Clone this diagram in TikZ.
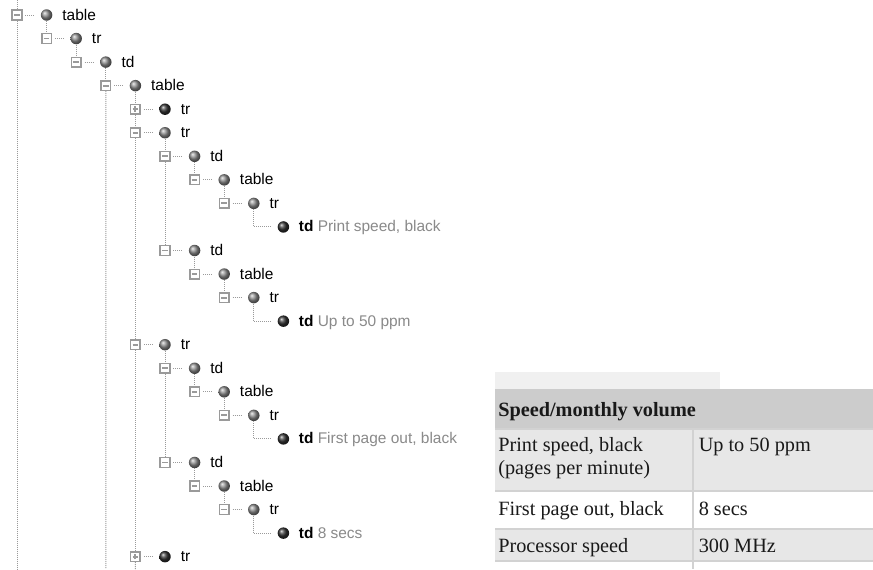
\documentclass[tikz,border=0pt]{standalone}
\usepackage{fontspec}
\setmainfont{Liberation Serif}
\newfontfamily\treefont{Liberation Sans}
\definecolor{boxgray}{HTML}{9A9A9A}
\definecolor{dotgray}{HTML}{9A9A9A}
\definecolor{valgray}{HTML}{8A8A8A}
\definecolor{topbar}{HTML}{F0F0F0}
\definecolor{hdrgray}{HTML}{CCCCCC}
\definecolor{rowgray}{HTML}{E7E7E7}
\definecolor{rulegray}{HTML}{D2D2D2}
\tikzset{
  dotline/.style={draw=dotgray, line width=0.75pt, dash pattern=on 0.75pt off 0.75pt},
  treebox/.style={draw=boxgray, fill=white, line width=1.1pt, minimum size=7.2pt, inner sep=0pt, rectangle},
  minusbox/.style={treebox, path picture={
      \draw[line width=1.4pt] ([xshift=-2.1pt]path picture bounding box.center) -- ([xshift=2.1pt]path picture bounding box.center);}},
  plusbox/.style={treebox, path picture={
      \draw[line width=1.4pt] ([xshift=-2.1pt]path picture bounding box.center) -- ([xshift=2.1pt]path picture bounding box.center);
      \draw[line width=1.4pt] ([yshift=-2.1pt]path picture bounding box.center) -- ([yshift=2.1pt]path picture bounding box.center);}},
  gball/.style={circle, minimum size=8.6pt, inner sep=0pt, shading=ball, ball color=black!45},
  dball/.style={circle, minimum size=8.6pt, inner sep=0pt, shading=ball, ball color=black!80},
  lbl/.style={anchor=base west, inner sep=0pt, font=\treefont\fontsize{11.6}{13}\selectfont},
  cell/.style={anchor=base west, inner sep=0pt, font=\fontsize{15.2}{17.25}\selectfont, text=black!90},
}
\newcommand\trow[5]{%
  \node[#3] (b#1) at ({17+29.6*#2},{15+23.55*#1}) {};
  \node[#4] (c#1) at ({46.6+29.6*#2},{15+23.55*#1}) {};
  \node[lbl] (t#1) at ({62.1+29.6*#2},{20+23.55*#1}) {#5};
  \draw[dotline, shorten <=2.2pt, shorten >=4.5pt] (b#1.east) -- (c#1.west);
}
\newcommand\tleaf[2]{%
  \node[dball] (c#1) at (283.4,{15+23.55*#1}) {};
  \node[lbl] (t#1) at (298.6,{20+23.55*#1}) {\bfseries td \mdseries\textcolor{valgray}{#2}};
}
\begin{document}
\begin{tikzpicture}[x=0.75pt,y=-0.75pt]
\useasboundingbox (0,0) rectangle (873,569);
\fill[white] (0,0) rectangle (873,569);

% ---------------- tree rows
\trow{0}{0}{minusbox}{gball}{table}
\trow{1}{1}{minusbox}{gball}{tr}
\trow{2}{2}{minusbox}{gball}{td}
\trow{3}{3}{minusbox}{gball}{table}
\trow{4}{4}{plusbox}{dball}{tr}
\trow{5}{4}{minusbox}{gball}{tr}
\trow{6}{5}{minusbox}{gball}{td}
\trow{7}{6}{minusbox}{gball}{table}
\trow{8}{7}{minusbox}{gball}{tr}
\tleaf{9}{Print speed, black}
\trow{10}{5}{minusbox}{gball}{td}
\trow{11}{6}{minusbox}{gball}{table}
\trow{12}{7}{minusbox}{gball}{tr}
\tleaf{13}{Up to 50 ppm}
\trow{14}{4}{minusbox}{gball}{tr}
\trow{15}{5}{minusbox}{gball}{td}
\trow{16}{6}{minusbox}{gball}{table}
\trow{17}{7}{minusbox}{gball}{tr}
\tleaf{18}{First page out, black}
\trow{19}{5}{minusbox}{gball}{td}
\trow{20}{6}{minusbox}{gball}{table}
\trow{21}{7}{minusbox}{gball}{tr}
\tleaf{22}{8 secs}
\trow{23}{4}{plusbox}{dball}{tr}

% free ends
\coordinate (top0) at (17,0);
\coordinate (end0) at (17,569);
\coordinate (end3) at (105.8,569);
\coordinate (end4) at (135.4,569);

% sibling / child connectors
\draw[dotline] (top0) -- (b0.north);
\draw[dotline] (b0.south) -- (end0);
\draw[dotline] (c0.south) -- (b1.north);
\draw[dotline] (c1.south) -- (b2.north);
\draw[dotline] (c2.south) -- (b3.north);
\draw[dotline] (b3.south) -- (end3);
\draw[dotline] (c3.south) -- (b4.north);
\draw[dotline] (b4.south) -- (b5.north);
\draw[dotline] (b5.south) -- (b14.north);
\draw[dotline] (b14.south) -- (b23.north);
\draw[dotline] (b23.south) -- (end4);
% first tr
\draw[dotline] (c5.south) -- (b6.north);
\draw[dotline] (b6.south) -- (b10.north);
\draw[dotline] (c6.south) -- (b7.north);
\draw[dotline] (c7.south) -- (b8.north);
\draw[dotline, shorten >=5pt] (c8.south) |- (c9.west);
\draw[dotline] (c10.south) -- (b11.north);
\draw[dotline] (c11.south) -- (b12.north);
\draw[dotline, shorten >=5pt] (c12.south) |- (c13.west);
% second tr
\draw[dotline] (c14.south) -- (b15.north);
\draw[dotline] (b15.south) -- (b19.north);
\draw[dotline] (c15.south) -- (b16.north);
\draw[dotline] (c16.south) -- (b17.north);
\draw[dotline, shorten >=5pt] (c17.south) |- (c18.west);
\draw[dotline] (c19.south) -- (b20.north);
\draw[dotline] (c20.south) -- (b21.north);
\draw[dotline, shorten >=5pt] (c21.south) |- (c22.west);

% ---------------- table
\fill[topbar] (495,372) rectangle (720,389);
\fill[hdrgray] (495,389) rectangle (873,428.5);
\fill[rowgray] (495,428.5) rectangle (873,490.5);
\fill[white] (495,490.5) rectangle (873,529);
\fill[rowgray] (495,529) rectangle (873,560.5);
\fill[white] (495,560.5) rectangle (873,569);
\draw[rulegray, line width=1.5pt] (495,429) -- (873,429);
\draw[rulegray, line width=1.5pt] (495,491) -- (873,491);
\draw[rulegray, line width=1.5pt] (495,529) -- (873,529);
\draw[rulegray, line width=1.5pt] (495,561) -- (873,561);
\draw[rulegray, line width=1.5pt] (692.5,429) -- (692.5,569);

\node[cell, font=\fontsize{15.2}{17.25}\selectfont\bfseries] (hdr) at (498,416.5) {Speed/monthly volume};
\node[cell] (r1a) at (498,451) {Print speed, black};
\node[cell] (r1c) at (498,474) {(pages per minute)};
\node[cell] (r1b) at (698.5,451) {Up to 50 ppm};
\node[cell] (r2a) at (498,515.5) {First page out, black};
\node[cell] (r2b) at (698.5,515.5) {8 secs};
\node[cell] (r3a) at (498,552.5) {Processor speed};
\node[cell] (r3b) at (698.5,552.5) {300 MHz};
\end{tikzpicture}
\end{document}
